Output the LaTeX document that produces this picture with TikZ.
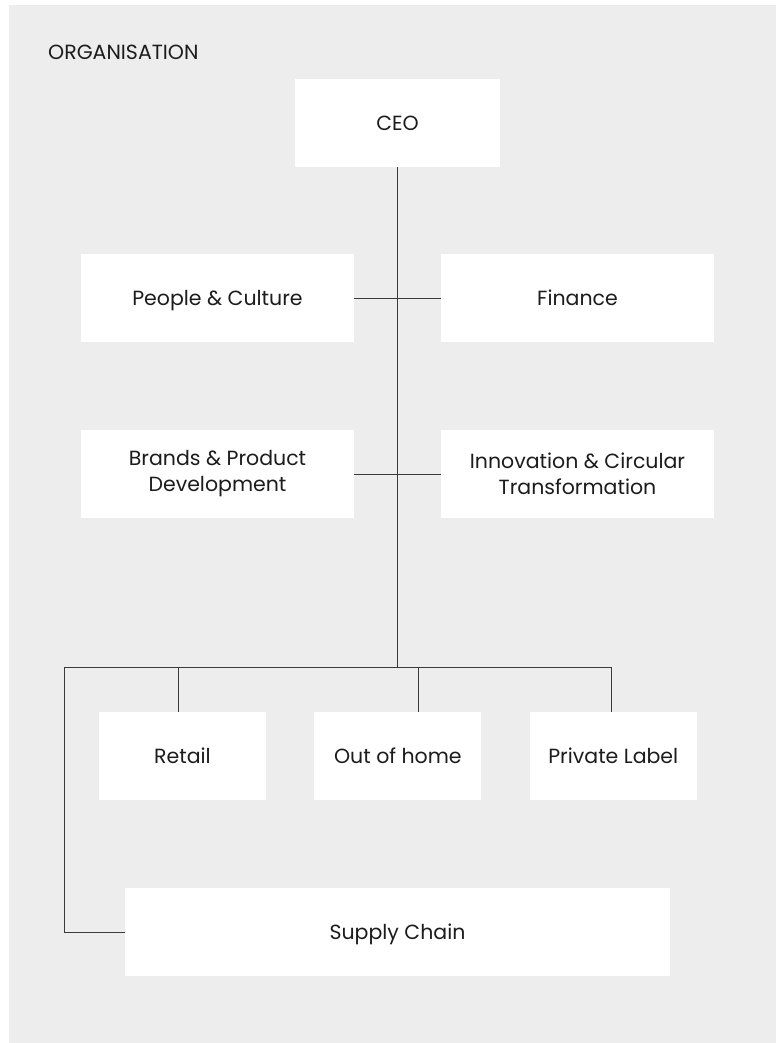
\documentclass[tikz,border=0pt]{standalone}
\usepackage{fontspec}
\setmainfont{Poppins}
\usetikzlibrary{positioning}
\definecolor{panel}{HTML}{EDEDED}
\definecolor{ink}{HTML}{1C1C1C}
\definecolor{wire}{HTML}{3A3A3A}

\begin{document}
\begin{tikzpicture}[
  x=1bp, y=-1bp,
  every node/.style={
    rectangle,
    text=ink,
    font=\fontsize{20.5bp}{26bp}\selectfont,
  },
  unit/.style={fill=white, minimum height=88bp, align=center, inner sep=0pt},
  oneline/.style={unit, text height=19bp, text depth=5bp},
  link/.style={draw=wire, line width=0.9bp}
]
\useasboundingbox (0,0) rectangle (776,1043);
\fill[panel] (9,5) rectangle (776,1043);

\node[anchor=base west, inner sep=0pt] (title) at (48,59) {ORGANISATION};

\node[oneline, minimum width=205bp] (ceo) at (397.5,123) {CEO};
\node[oneline, minimum width=273bp] (people) at (217.5,298) {People \& Culture};
\node[oneline, minimum width=273bp] (finance) at (577.5,298) {Finance};
\node[unit, minimum width=273bp] (brands) at (217.5,474) {Brands \& Product\\Development};
\node[unit, minimum width=273bp] (innovation) at (577.5,474) {Innovation \& Circular\\Transformation};

\node[oneline, minimum width=167bp] (retail) at (182.5,756) {Retail};
\node[oneline, minimum width=167bp, right=48bp of retail] (outofhome) {Out of home};
\node[oneline, minimum width=167bp, right=48bp of outofhome] (privatelabel) {Private Label};
\node[oneline, minimum width=545bp] (supply) at (397.5,932) {Supply Chain};

\coordinate (bus) at (397,667);
\coordinate (busleft) at (64,667);
\coordinate (busright) at (611,667);

\draw[link] (ceo.south -| bus) -- (bus);
\draw[link] (people.east) -- (finance.west);
\draw[link] (brands.east) -- (innovation.west);
\draw[link] (supply.west) -| (busleft) -- (busright);
\draw[link] ([xshift=-4.5bp]retail.north) -- ([xshift=-4.5bp]retail.north |- bus);
\draw[link] ([xshift=20.5bp]outofhome.north) -- ([xshift=20.5bp]outofhome.north |- bus);
\draw[link] (privatelabel.north -| busright) -- (busright);
\end{tikzpicture}
\end{document}
